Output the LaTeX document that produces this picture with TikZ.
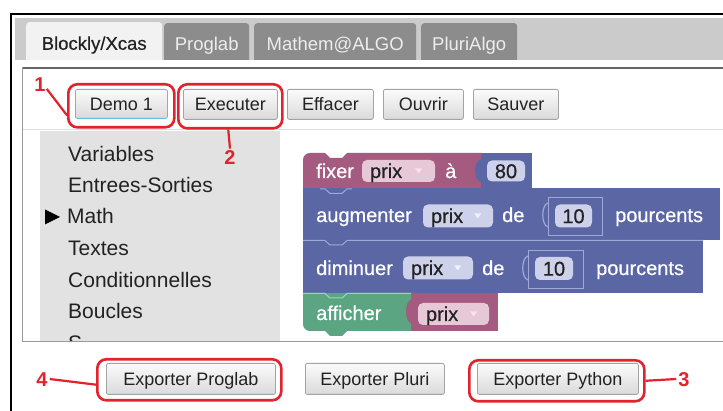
\documentclass[tikz,border=0pt]{standalone}
\usepackage{fontspec}
\setmainfont{Liberation Sans}
\newfontfamily\semib{Liberation Sans}[FakeBold=0.5]
\usetikzlibrary{calc}
\definecolor{tabbar}{HTML}{CBCBCB}
\definecolor{tabact}{HTML}{F2F2F2}
\definecolor{tabin}{HTML}{8C8C8C}
\definecolor{tabintext}{HTML}{EDEDED}
\definecolor{panelborder}{HTML}{9A9A9A}
\definecolor{paneltop}{HTML}{666666}
\definecolor{toolgray}{HTML}{E2E2E2}
\definecolor{sepline}{HTML}{DEDEDE}
\definecolor{btnborder}{HTML}{A3A3A3}
\definecolor{btntop}{HTML}{FBFBFB}
\definecolor{btnbot}{HTML}{DADADA}
\definecolor{demoborder}{HTML}{62BCE0}
\definecolor{annred}{HTML}{E0232C}
\definecolor{txtdark}{HTML}{222222}
\definecolor{pinkblk}{HTML}{A55B80}
\definecolor{pinkfld}{HTML}{E7C8D6}
\definecolor{pinktri}{HTML}{F7E3ED}
\definecolor{blueblk}{HTML}{5B67A5}
\definecolor{bluefld}{HTML}{CDD1EA}
\definecolor{bluetri}{HTML}{EEF0FA}
\definecolor{blueline}{HTML}{A0A8D8}
\definecolor{greenblk}{HTML}{5BA583}
\definecolor{greenline}{HTML}{A2D2BA}
\newcommand\fsz[1]{\fontsize{#1}{#1}\selectfont}
\tikzset{
  tabon/.style={fill=tabact, rounded corners=3pt, minimum height=42pt, inner sep=0pt,
    font=\semib\fsz{18.5}, text=txtdark, text height=13.2pt, text depth=0pt},
  taboff/.style={tabon, font=\fsz{18.5}, fill=tabin, text=tabintext},
  btn/.style={draw=btnborder, line width=0.8pt, rounded corners=2pt, top color=btntop,
    bottom color=btnbot, inner sep=0pt, font=\fsz{18}, text=txtdark,
    text height=12.9pt, text depth=0pt},
  redbox/.style={draw=annred, line width=2.6pt, rounded corners=9pt, inner sep=0pt},
  redlbl/.style={font=\bfseries\fsz{20}, text=annred, inner sep=0pt,
    text height=14.3pt, text depth=0pt},
  redline/.style={draw=annred, line width=2.2pt},
  toolitem/.style={font=\fsz{21}, text=txtdark, inner sep=0pt, anchor=base west},
  blktext/.style={font=\semib\fsz{20}, text=white, inner sep=0pt, anchor=base west},
  fldtext/.style={font=\semib\fsz{20}, text=txtdark, inner sep=0pt},
  pfield/.style={fill=pinkfld, rounded corners=5pt, inner sep=0pt},
  bfield/.style={fill=bluefld, rounded corners=5pt, inner sep=0pt},
}
\begin{document}
\begin{tikzpicture}[x=1pt,y=-1pt]
\useasboundingbox (0,0) rectangle (723,411);
\clip (0,0) rectangle (723,411);
\fill[white] (0,0) rectangle (723,411);
% tab bar
\fill[tabbar] (15,18) rectangle (723,60);
\node[tabon, minimum width=136, anchor=north west] (t1) at (26,22) {Blockly/Xcas};
\node[taboff, minimum width=85, anchor=north west] (t2) at (164,23) {Proglab};
\node[taboff, minimum width=162, anchor=north west] (t3) at (254,23) {Mathem@ALGO};
\node[taboff, minimum width=96, anchor=north west] (t4) at (421,23) {PluriAlgo};
\fill[white] (13,60) rectangle (723,67.5);
% panel
\fill[white] (22.5,68) rectangle (740,341.5);
\draw[panelborder, line width=1.2pt] (22.5,68) rectangle (740,341.5);
\draw[paneltop, line width=2pt] (22.5,68) -- (723,68);
% toolbar buttons
\node[btn, draw=demoborder, minimum width=92, minimum height=29, anchor=north west] (demo) at (75,89) {Demo 1};
\node[btn, minimum width=94, minimum height=30, anchor=north west] (exec) at (183,89) {Executer};
\node[btn, minimum width=86, minimum height=30, anchor=north west] (eff) at (287,89) {Effacer};
\node[btn, minimum width=80, minimum height=30, anchor=north west] (ouv) at (383,89) {Ouvrir};
\node[btn, minimum width=85, minimum height=30, anchor=north west] (sauv) at (473,89) {Sauver};
% separator and toolbox
\draw[sepline, line width=1pt] (23,130) -- (723,130);
\fill[toolgray] (40,131) rectangle (280,341);
\node[toolitem] (v1) at (68,161.5) {Variables};
\node[toolitem] (v2) at (68,193) {Entrees-Sorties};
\node[toolitem] (v3) at (67,224) {Math};
\node[toolitem] (v4) at (68,256) {Textes};
\node[toolitem] (v5) at (68,287.5) {Conditionnelles};
\node[toolitem] (v6) at (68,319) {Boucles};
\begin{scope}
\clip (40,131) rectangle (280,340.5);
\node[toolitem] (v7) at (68,351) {S};
\end{scope}
\fill[black] (45,209.5) -- (60,217) -- (45,224.5) -- cycle;
% blocks
\fill[blueblk] (303,188) rectangle (720,240);
\fill[blueblk] (303,240) rectangle (703,293);
\fill[pinkblk] (303,188) -- (303,160) .. controls (303,156) and (306,153) .. (310,153)
  -- (325,153) -- (330,158) -- (342,158) -- (347,153) -- (481,153) -- (481,188) -- cycle;
\fill[blueblk] (481,153) rectangle (532,188);
\fill[blueblk] (481,159) .. controls (473,161) and (473,180) .. (481,182) -- cycle;
\fill[greenblk] (303,293) -- (412,293) -- (412,331) -- (347,331) -- (342,336) -- (330,336)
  -- (325,331) -- (310,331) .. controls (306,331) and (303,328) .. (303,324) -- cycle;
\fill[pinkblk] (411,293) rectangle (498,331);
\fill[pinkblk] (412,299) .. controls (404,301) and (404,322) .. (412,324) -- cycle;
% connection lines
\draw[blueline, line width=1pt] (320,188.8) -- (325,188.8) -- (330,193.5) -- (342,193.5) -- (347,188.8) -- (352,188.8);
\draw[blueline, line width=1pt] (303,240.5) -- (325,240.5) -- (330,245) -- (342,245) -- (347,240.5) -- (703,240.5);
\draw[greenline, line width=1pt] (303,293.5) -- (325,293.5) -- (330,298) -- (342,298) -- (347,293.5) -- (411,293.5);
% value boxes
\draw[blueline, line width=0.9pt] (548,197) rectangle (602,235);
\draw[blueline, line width=1.2pt] (548,203) .. controls (541,205) and (541,225) .. (548,227);
\draw[blueline, line width=0.9pt] (528,250) rectangle (583,288);
\draw[blueline, line width=1.2pt] (528,256) .. controls (521,258) and (521,278) .. (528,280);
% block texts
\node[blktext] (b1) at (316,178) {fixer};
\node[pfield, minimum width=73, minimum height=22] (f1) at (398.5,171) {};
\node[fldtext, anchor=base west] (f1t) at ([xshift=8pt,yshift=-7pt]f1.west) {prix};
\fill[pinktri] ([xshift=-20pt,yshift=2.5pt]f1.east) -- ++(7,0) -- ++(-3.5,5) -- cycle;
\node[blktext] (b1a) at (445,178) {à};
\node[bfield, minimum width=38, minimum height=21] (n80) at (506,171) {};
\node[fldtext, text height=14.3pt, text depth=0pt] (n80t) at (n80) {80};

\node[blktext] (b2) at (316,222) {augmenter};
\node[bfield, minimum width=70, minimum height=23] (f2) at (458,216) {};
\node[fldtext, anchor=base west] (f2t) at ([xshift=8pt,yshift=-7pt]f2.west) {prix};
\fill[bluetri] ([xshift=-19pt,yshift=2.5pt]f2.east) -- ++(7,0) -- ++(-3.5,5) -- cycle;
\node[blktext] (b2a) at (502,222) {de};
\node[bfield, minimum width=37, minimum height=23] (n10a) at (573.5,216) {};
\node[fldtext, text height=14.3pt, text depth=0pt] (n10at) at (n10a) {10};
\node[blktext] (b2b) at (615,222) {pourcents};

\node[blktext] (b3) at (316,275) {diminuer};
\node[bfield, minimum width=70, minimum height=23] (f3) at (438,268) {};
\node[fldtext, anchor=base west] (f3t) at ([xshift=8pt,yshift=-7pt]f3.west) {prix};
\fill[bluetri] ([xshift=-19pt,yshift=2.5pt]f3.east) -- ++(7,0) -- ++(-3.5,5) -- cycle;
\node[blktext] (b3a) at (482,275) {de};
\node[bfield, minimum width=38, minimum height=23] (n10b) at (554,268.5) {};
\node[fldtext, text height=14.3pt, text depth=0pt] (n10bt) at (n10b) {10};
\node[blktext] (b3b) at (596,275) {pourcents};

\node[blktext] (b4) at (316,320) {afficher};
\node[pfield, minimum width=71, minimum height=22] (f4) at (453.5,314) {};
\node[fldtext, anchor=base west] (f4t) at ([xshift=8pt,yshift=-7pt]f4.west) {prix};
\fill[pinktri] ([xshift=-19pt,yshift=2.5pt]f4.east) -- ++(7,0) -- ++(-3.5,5) -- cycle;
% bottom buttons
\node[btn, minimum width=169, minimum height=31, anchor=north west] (xprog) at (106,363) {Exporter Proglab};
\node[btn, minimum width=139, minimum height=31, anchor=north west] (xpluri) at (305,363) {Exporter Pluri};
\node[btn, minimum width=161, minimum height=31, anchor=north west] (xpy) at (477,363) {Exporter Python};
% annotations
\node[redbox, minimum width=106, minimum height=43, anchor=north west] (box1) at (67,83) {};
\node[redbox, minimum width=104, minimum height=44, anchor=north west] (box2) at (177,83) {};
\node[redbox, minimum width=184, minimum height=41, anchor=north west] (box4) at (96,358) {};
\node[redbox, minimum width=175, minimum height=41, anchor=north west] (box3) at (468,359) {};
\node[redlbl] (l1) at (40,84.5) {1};
\node[redlbl] (l2) at (230,157) {2};
\node[redlbl] (l3) at (684,379) {3};
\node[redlbl] (l4) at (42,379) {4};
\draw[redline] ([xshift=1pt,yshift=3pt]l1.south east) -- (box1.190);
\draw[redline] (box2.-95) -- ([yshift=1pt]l2.north);
\draw[redline] ([xshift=2pt]l4.east) -- (box4.183);
\draw[redline] (box3.east) -- ([xshift=-2pt]l3.west);
% outer frame
\draw[black, line width=2.4pt] (11,411) -- (11,14) -- (723,14);
\end{tikzpicture}
\end{document}
